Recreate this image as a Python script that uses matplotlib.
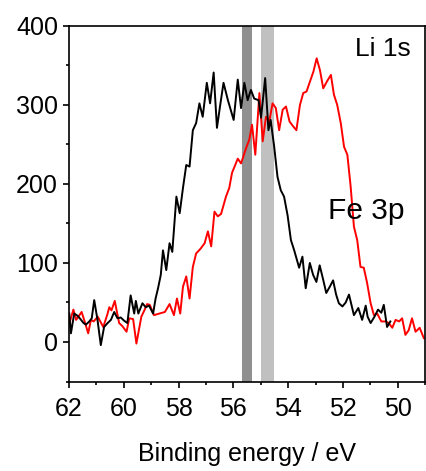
import matplotlib
matplotlib.use("Agg")
import matplotlib.pyplot as plt
from matplotlib.ticker import MultipleLocator

plt.rcParams['font.family'] = ['Liberation Sans', 'DejaVu Sans']

# Li 1s region, black trace
black_ev = [61.99, 61.93, 61.81, 61.68, 61.56, 61.47, 61.38, 61.26, 61.17, 61.08,
            60.96, 60.84, 60.72, 60.59, 60.47, 60.35, 60.23, 60.11, 59.99, 59.87,
            59.75, 59.62, 59.56, 59.47, 59.32, 59.20, 59.08, 58.93, 58.84, 58.75,
            58.65, 58.57, 58.45, 58.33, 58.23, 58.08, 57.96, 57.84, 57.72, 57.60,
            57.48, 57.36, 57.24, 57.12, 56.97, 56.85, 56.72, 56.60, 56.48, 56.36,
            56.20, 55.99, 55.84, 55.72, 55.60, 55.48, 55.36, 55.24, 55.08, 54.99,
            54.84, 54.72, 54.64, 54.51, 54.39, 54.27, 54.15, 54.02, 53.90, 53.78,
            53.60, 53.48, 53.36, 53.21, 53.09, 52.97, 52.85, 52.73, 52.61, 52.48,
            52.36, 52.25, 52.15, 52.02, 51.90, 51.78, 51.60, 51.44, 51.30, 51.17,
            51.10, 50.99, 50.85, 50.72, 50.60, 50.51, 50.39, 50.27]
black_cts = [36, 11, 36, 33, 28, 24, 22, 26, 30, 53,
             28, -4, 19, 24, 28, 38, 30, 31, 27, 24,
             59, 36, 52, 36, 49, 44, 46, 36, 55, 68,
             85, 116, 91, 125, 114, 184, 163, 195, 224, 222,
             268, 277, 302, 285, 328, 302, 341, 271, 300, 328,
             306, 281, 332, 296, 328, 306, 319, 308, 306, 284,
             334, 268, 281, 247, 209, 192, 184, 160, 129, 116,
             94, 108, 68, 100, 85, 76, 97, 80, 62, 70,
             78, 60, 49, 45, 50, 60, 34, 43, 28, 46,
             32, 24, 32, 41, 37, 47, 19, 26]

# Fe 3p region, red trace
red_ev = [62.00, 61.84, 61.74, 61.54, 61.42, 61.30, 61.20, 61.10, 60.95, 60.75,
          60.60, 60.53, 60.45, 60.33, 60.17, 60.05, 59.90, 59.80, 59.66, 59.54,
          59.36, 59.25, 59.15, 59.05, 58.90, 58.70, 58.50, 58.33, 58.17, 58.06,
          57.94, 57.84, 57.72, 57.60, 57.48, 57.36, 57.20, 57.05, 56.93, 56.81,
          56.69, 56.57, 56.45, 56.27, 56.15, 56.05, 55.84, 55.72, 55.54, 55.42,
          55.32, 55.20, 55.05, 54.93, 54.81, 54.69, 54.57, 54.45, 54.33, 54.20,
          54.08, 53.95, 53.82, 53.70, 53.57, 53.45, 53.33, 53.20, 53.08, 52.96,
          52.84, 52.72, 52.58, 52.44, 52.33, 52.21, 52.08, 51.96, 51.84, 51.72,
          51.60, 51.48, 51.36, 51.24, 51.12, 50.99, 50.87, 50.75, 50.60, 50.45,
          50.33, 50.20, 50.08, 49.95, 49.84, 49.72, 49.60, 49.48, 49.35, 49.20,
          49.05]
red_cts = [22, 41, 28, 38, 25, 11, 28, 26, 32, 19,
           35, 44, 40, 52, 24, 20, 13, 30, 29, -2,
           32, 40, 48, 47, 34, 36, 38, 48, 34, 55,
           36, 70, 83, 55, 95, 112, 118, 125, 140, 121,
           165, 159, 162, 184, 195, 214, 232, 226, 245, 256,
           275, 237, 315, 254, 285, 279, 302, 296, 268, 294,
           298, 279, 273, 268, 300, 315, 317, 330, 342, 359,
           344, 321, 330, 338, 313, 300, 277, 247, 237, 197,
           146, 129, 95, 94, 75, 49, 34, 36, 26, 26,
           24, 18, 28, 26, 30, 9, 15, 30, 13, 18,
           5]

# reference positions (eV)
dark_band = (55.33, 55.70)
light_band = (54.50, 55.01)

fig = plt.figure(figsize=(4.26, 4.71), dpi=100)
ax = fig.add_axes([0.162, 0.19, 0.836, 0.755])

ax.axvspan(*dark_band, color='#909090', lw=0, zorder=1)
ax.axvspan(*light_band, color='#c0c0c0', lw=0, zorder=1)

ax.plot(black_ev, black_cts, color='black', lw=1.4, zorder=3)
ax.plot(red_ev, red_cts, color='red', lw=1.4, zorder=2)

ax.set_xlim(62, 49)
ax.set_ylim(-50, 400)
ax.xaxis.set_major_locator(MultipleLocator(2))
ax.xaxis.set_minor_locator(MultipleLocator(1))
ax.yaxis.set_major_locator(MultipleLocator(100))
ax.yaxis.set_minor_locator(MultipleLocator(50))
ax.tick_params(which='both', direction='out', width=1.2, labelsize=18)
ax.tick_params(axis='x', pad=7)
ax.tick_params(axis='y', pad=4)
ax.tick_params(which='major', length=4)
ax.tick_params(which='minor', length=2.5)
for s in ax.spines.values():
    s.set_linewidth(1.2)

ax.set_xlabel('Binding energy / eV', fontsize=18, labelpad=15)

ax.text(0.96, 0.935, 'Li 1s', transform=ax.transAxes, ha='right', va='center', fontsize=19)
ax.text(0.728, 0.48, 'Fe 3p', transform=ax.transAxes, ha='left', va='center', fontsize=21.5)

fig.savefig('out.png', dpi=100)
